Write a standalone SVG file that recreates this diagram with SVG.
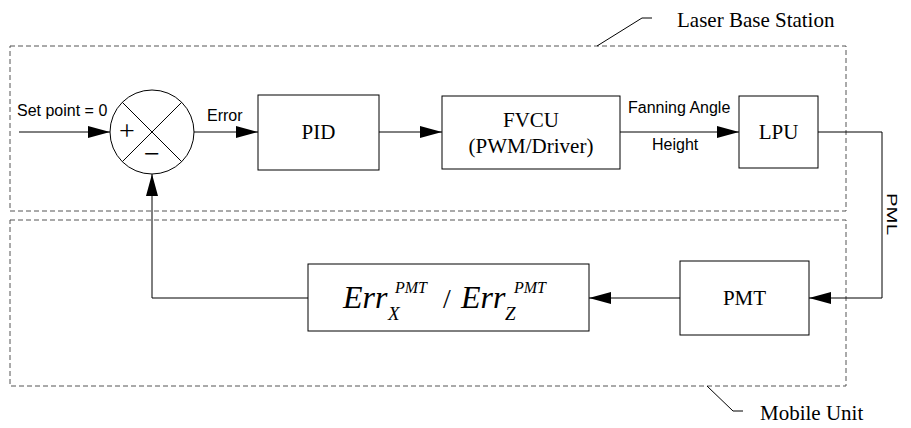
<svg xmlns="http://www.w3.org/2000/svg" width="911" height="428" viewBox="0 0 911 428">
<style>
.box{fill:#fff;stroke:#000;stroke-width:1}
.grp{fill:none;stroke:#555;stroke-width:1;stroke-dasharray:5,3}
.ln{fill:none;stroke:#000;stroke-width:1}
</style>
<defs>
<marker id="arr" markerUnits="userSpaceOnUse" markerWidth="22" markerHeight="12" refX="22" refY="6" orient="auto">
<path d="M0,0 L22,6 L0,12 z" fill="#000"/>
</marker>
</defs>
<rect width="911" height="428" fill="#fff"/>
<g id="groups" font-family="'Liberation Serif', 'DejaVu Serif', serif" fill="#000">
<g id="laser-base-station">
<rect class="grp" x="10" y="46" width="836" height="165"/>
<path class="ln" d="M597,46 L642,18 H652"/>
<text x="677" y="27" font-size="21">Laser Base Station</text>
</g>
<g id="mobile-unit">
<rect class="grp" x="10" y="220" width="836" height="166"/>
<path class="ln" d="M707,386 L733,411 H743"/>
<text x="760" y="420" font-size="21">Mobile Unit</text>
</g>
</g>
<g id="connectors" font-family="'Liberation Sans', Arial, sans-serif" fill="#000">
<path class="ln" d="M19,132 H110" marker-end="url(#arr)"/>
<path class="ln" d="M194,132 H258" marker-end="url(#arr)"/>
<path class="ln" d="M379,132 H442" marker-end="url(#arr)"/>
<path class="ln" d="M620,132 H739" marker-end="url(#arr)"/>
<path class="ln" d="M818,132 H882 V298 H809" marker-end="url(#arr)"/>
<path class="ln" d="M680,298 H589" marker-end="url(#arr)"/>
<path class="ln" d="M308,298 H152 V174" marker-end="url(#arr)"/>
<text x="17" y="116" font-size="16">Set point = 0</text>
<text x="207" y="121" font-size="16">Error</text>
<text x="628" y="113" font-size="16">Fanning Angle</text>
<text x="652" y="150" font-size="16">Height</text>
<text transform="translate(887,193) rotate(90)" font-size="14" textLength="42" lengthAdjust="spacingAndGlyphs">PML</text>
</g>
<g id="nodes" font-family="'Liberation Serif', 'DejaVu Serif', serif" fill="#000">
<g id="sum">
<circle class="box" cx="152" cy="132" r="42"/>
<path class="ln" d="M122.3,102.3 L181.7,161.7 M181.7,102.3 L122.3,161.7"/>
<text x="127" y="140" font-size="28" text-anchor="middle">+</text>
<text x="152" y="163" font-size="28" text-anchor="middle">−</text>
</g>
<g id="pid">
<rect class="box" x="258" y="95" width="121" height="75"/>
<text x="318.5" y="139" font-size="21" text-anchor="middle">PID</text>
</g>
<g id="fvcu">
<rect class="box" x="442" y="96" width="178" height="73"/>
<text x="531" y="127" font-size="21" text-anchor="middle">FVCU</text>
<text x="531" y="153" font-size="21" text-anchor="middle">(PWM/Driver)</text>
</g>
<g id="lpu">
<rect class="box" x="739" y="96" width="79" height="72"/>
<text x="778.5" y="139" font-size="21" text-anchor="middle">LPU</text>
</g>
<g id="pmt">
<rect class="box" x="680" y="261" width="129" height="74"/>
<text x="744.5" y="305" font-size="21" text-anchor="middle">PMT</text>
</g>
<g id="err">
<rect class="box" x="308" y="264" width="281" height="67"/>
<text x="343" y="308" font-size="32" font-style="italic">Err</text>
<text x="388" y="320" font-size="19" font-style="italic">X</text>
<text x="395" y="293" font-size="16" font-style="italic">PMT</text>
<text x="443" y="308" font-size="28">/</text>
<text x="461" y="308" font-size="32" font-style="italic">Err</text>
<text x="505" y="320" font-size="19" font-style="italic">Z</text>
<text x="514" y="293" font-size="16" font-style="italic">PMT</text>
</g>
</g>
</svg>
